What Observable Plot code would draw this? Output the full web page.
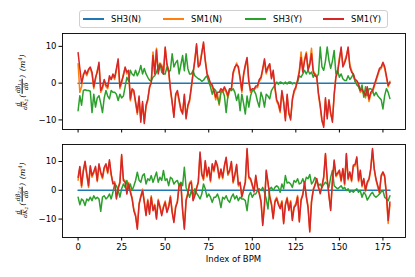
<!DOCTYPE html>
<html><head><meta charset="utf-8">
<script src="https://cdn.jsdelivr.net/npm/d3@7"></script>
<script src="https://cdn.jsdelivr.net/npm/@observablehq/plot@0.6"></script>
<style>
body{margin:0;background:#fff;font-family:"DejaVu Sans",sans-serif;}
#wrap{position:relative;width:415px;height:277px;overflow:hidden;background:#fff;}
.panel{position:absolute;left:0;}
.legend{position:absolute;left:79px;top:10px;width:307px;height:16px;border:1px solid #d0d0d0;border-radius:3px;background:#fff;}
.item{position:absolute;top:0;height:16px;font-size:8.5px;line-height:16px;color:#000;white-space:nowrap;}
.sw{position:absolute;top:7px;width:21px;height:0;border-top:2px solid #000;}
.ylab{position:absolute;transform:translate(-50%,-50%) rotate(-90deg);white-space:nowrap;font-family:"DejaVu Serif",serif;font-size:8px;color:#000;font-style:italic;display:flex;align-items:center;gap:1px;}
.frac{display:inline-flex;flex-direction:column;align-items:center;font-size:6px;line-height:1.05;}
.frac .num{border-bottom:0.6px solid #000;padding:0 0.5px;}
.frac sub{font-size:4.2px;vertical-align:-1px;}
.ylab sup{font-size:5px;vertical-align:3.5px;}
.xlab{position:absolute;left:62px;width:343px;top:254px;text-align:center;font-size:8.5px;color:#000;}
</style></head><body><div id="wrap"></div>
<script>
const seriesNames = ["SH3(N)", "SM1(N)", "SH3(Y)", "SM1(Y)"];
const seriesColors = ["#1f77b4", "#ff7f0e", "#2ca02c", "#d62728"];
const xTicks = [0, 25, 50, 75, 100, 125, 150, 175];
const yTicks = [-10, 0, 10];
const bpmIndex = d3.range(180);

// Top panel: d/dK2 (d beta_{1,x} / d delta)
const top_SH3N = [0,0,0,0,0,0,0,0,0,0,0,0,0,0,0,0,0,0,0,0,0,0,0,0,0,0,0,0,0,0,
0,0,0,0,0,0,0,0,0,0,0,0,0,0,0,0,0,0,0,0,0,0,0,0,0,0,0,0,0,0,
0,0,0,0,0,0,0,0,0,0,0,0,0,0,0,0,0,0,0,0,0,0,0,0,0,0,0,0,0,0,
0,0,0,0,0,0,0,0,0,0,0,0,0,0,0,0,0,0,0,0,0,0,0,0,0,0,0,0,0,0,
0,0,0,0,0,0,0,0,0,0,0,0,0,0,0,0,0,0,0,0,0,0,0,0,0,0,0,0,0,0,
0,0,0,0,0,0,0,0,0,0,0,0,0,0,0,0,0,0,0,0,0,0,0,0,0,0,0,0,0,0];
const top_SM1N = [5.3,-2.5,-1,2.5,3,2,3.5,4,2.5,-1.5,1,3.5,5,-2.5,-1.5,0.5,-1,-1.5,1.5,1,2,1,3.5,6,-1.5,0,2.5,4,2.5,3,
-4.8,-2,-2.5,-5.5,-8.5,-4,-10,-5.5,-10.5,-6.5,-4.8,-1.5,0.5,8.5,3,9.5,3,5.5,5,3,9.5,5.5,3,-2,-5.5,-8.8,-3.5,-2.5,-5,-7.5,
-8,-3.5,-9.2,-6.5,-5,-1.5,3,6.5,10.2,5,5.5,8.5,10.7,6.5,3,1,-0.5,-1,-2.5,-4.5,-3,-6,-2,-2.5,-1.5,-2.5,-4,-2,-2,2.5,
4,5.5,4,1,-2.5,2,4.5,6.5,0.2,-2.5,-2,-2,-1.2,-1.2,0.5,1.2,3.5,6,2.5,4,5,1.5,3,-1.5,-5,-6,-8,-2.5,-5.5,-9.5,
-3.5,-8.5,-9.5,-4.8,-2.5,-1.5,1,3.5,8.5,3.5,6.5,8.5,4,5.5,9.5,3.5,2.5,2,-3.3,-6.5,-10.5,-11.5,-4.5,-9,-5,-8.5,-10,-3.5,2,3.5,
7,9.2,5,6,7.5,9.5,5,3.5,2,0.5,0.2,-0.8,-2.5,-2,-3,-4,-1.5,-5,-3,-2.5,-1,0.5,2,3.5,4,5.3,4,1.5,-1,0.5];
const top_SH3Y = [-7.5,-3.4,-6,-2,-1.8,-2,-2,-2.2,-8,-3,-6.5,-4,-3.4,-5.5,-8,-4,-2,-3.5,-4.3,-2,-2.5,-2.5,-3,-4.7,-3,-4,-3.5,-1,1.6,0.5,
3.5,2.5,2,3.5,2,3,4.8,2.5,4,2.5,1.6,0.8,0.6,1.6,2,3,4.5,5.3,3,2.5,2.5,4.4,3,3.5,8,4.4,5.5,6.2,2.5,5,
7.5,3.4,8,4,2.5,2.5,3.4,2,1.6,1.2,1,0.5,0.8,1.5,2,0.3,-1,-3,-1.5,-2,-3.8,-5.6,-2.5,-2,-3.5,-8,-3.4,-1.5,-2,-1.5,
-2.5,-4.7,-3,-7.5,-3,-5.5,-8.4,-3.5,-6.5,-3.5,-2,-2,-3,-5,-6.5,-2.5,-4,-6.5,-3,-3.5,-4.3,-2,-1.2,-0.5,0.3,-0.3,0.3,0.1,-0.2,0.3,
-0.2,0.3,0.3,-0.2,0.1,-0.2,0.3,2,1.6,2.5,3.5,2.5,3.5,2.5,3,1.6,2.5,1.6,2.5,9.8,4.4,3.5,6,9.8,6.2,4,6,8.9,2.5,3.5,
1.6,2.5,1.2,0.7,0.7,2,1,1.6,2.5,0.5,-0.5,-1,-2,-0.5,-3.8,-1,-3.4,-1.5,-1.5,-2,-3.4,-2.5,-3.4,-4,-4.5,-7,-3.4,-1.5,-2.5,-4.2];
const top_SM1Y = [8.3,4,0,2,3.5,2.5,3.8,4.4,3,-1,1.5,3,5.7,-2,-1,1,-0.5,-1,2,1,2.5,1.5,4,6.6,-1,0.5,2,4.4,3,3.5,
-4.3,-1.5,-2,-5,-8,-3.5,-10.6,-5,-11,-6,-4.3,-1,0,7.5,2.5,9,2.5,5,4.5,2.5,9.8,5,3.5,-1.5,-5,-9.3,-3,-2,-4.5,-7,
-8.4,-3,-9.7,-6,-4.5,-1,2.5,6,10.7,4.4,5,8,11.2,6,2.5,1.5,0,-0.5,-2,-3.8,-2.5,-2.5,-1.5,-2,-1,-2,-3.3,-1.5,-1.5,3,
4.4,5,4.5,1.5,-2,2.5,5,7,0.7,-2,-1.5,-1.6,-0.8,-0.7,1,1.6,4,6.6,3,4.4,5.3,1.2,3.5,-1,-4.5,-5.5,-7.5,-2,-5,-10.2,
-3,-8,-10,-4.3,-2,-1,0.7,3,7,3,6,8,3.5,5,8,3,2,1.6,-2.8,-6,-10,-12,-4,-9.7,-4.5,-8,-10.6,-3,1.6,3,
6.2,9.8,4.4,5.5,7,9.8,4.4,3,2.5,1,0.7,-0.2,-2,-1.6,-2.5,-3.4,-1,-4.3,-2.5,-2,-0.5,1,2.5,4,4.4,5.7,4.5,2,-0.6,0.2];

// Bottom panel: d/dK2 (d beta_{2,y} / d delta)
const bot_SH3N = [0,0,0,0,0,0,0,0,0,0,0,0,0,0,0,0,0,0,0,0,0,0,0,0,0,0,0,0,0,0,
0,0,0,0,0,0,0,0,0,0,0,0,0,0,0,0,0,0,0,0,0,0,0,0,0,0,0,0,0,0,
0,0,0,0,0,0,0,0,0,0,0,0,0,0,0,0,0,0,0,0,0,0,0,0,0,0,0,0,0,0,
0,0,0,0,0,0,0,0,0,0,0,0,0,0,0,0,0,0,0,0,0,0,0,0,0,0,0,0,0,0,
0,0,0,0,0,0,0,0,0,0,0,0,0,0,0,0,0,0,0,0,0,0,0,0,0,0,0,0,0,0,
0,0,0,0,0,0,0,0,0,0,0,0,0,0,0,0,0,0,0,0,0,0,0,0,0,0,0,0,0,0];
const bot_SM1N = [3.5,7.8,1,6.5,9.5,5.2,1,8,4.5,6,7.8,3,8.7,5.8,4,7.5,8.7,5.8,10,5.2,2.7,3,-2.5,1,3,11.8,3.9,3.3,-0.8,2.7,
-0.2,-2.5,-6.6,-8.5,-13,-4.5,-2,0.4,-3.7,-8.3,-3.1,-7.8,-1.9,-6.6,-4.8,-9.5,-3.1,-5.4,-8.3,-5.5,-3.7,-7.2,-5.4,-1.9,-7.2,-10.7,-5.5,-3.7,2.1,2.7,
-6.6,-13,-3.1,-0.8,2.7,3.3,-3.1,-1.4,1,2.5,12.8,5.2,3.5,9.8,4.6,7.5,2.9,8.7,6.4,9.8,8.1,4,6.9,4,8.1,11,5.2,6.4,9.5,2.5,
5,8.5,1.5,2.3,-1.9,0.5,2.5,14,4.2,3.6,1.5,-0.1,4.7,0.5,-0.7,-3.5,-11.7,-4.7,6.5,2.4,-1.8,-4.5,-9.4,-3.6,-2.4,-4.5,-5.9,-3.6,-11.1,-4.7,
-2.4,-6.5,-3.6,-10,-5.5,-4.7,-1.8,-10.5,-3,-1.2,2.4,-1.8,-5.5,-14,-3.6,0.5,1.5,3.6,0.7,-0.7,1,4.2,12.3,3.6,-1.5,-6.5,3,10,4.7,5.5,
6.5,3,7.1,1.8,12.3,3.6,5.9,3,8.2,8.5,11.1,3,6.5,1.2,3.6,-0.5,2.4,3.5,7.1,14,7.1,3.5,1.2,-1.1,4.7,5.9,4.5,-1.7,-11.5,-5];
const bot_SH3Y = [-2.4,-5,-3,-3.6,-5.3,-3,-3.6,-2.4,-3.6,-1.9,-3,-2.4,-3,-7.3,-2.4,-1.9,-3,-2.4,-1.3,-3,-0.7,2.2,1.6,0,-2.4,0.5,2.2,1,3.4,0.5,
2.2,-0.1,1.5,3.4,6.3,3.5,2.8,5.1,5.7,2.2,4,3.4,5.1,2.8,4.5,6.3,2.8,4.5,3.4,6.9,3.4,4,1.6,4.5,4,2.2,3,3.4,1.6,2.8,
1.6,8,1,-0.7,-2.4,-0.1,-1.9,0.5,-1,-1.9,-3,-1.3,2.2,0.5,-2.4,-1.3,-2.4,-4.2,-2.4,-2.4,-1.3,-3,-6,-2.4,-3,-1.9,-3.5,-4.2,-2.4,-1.3,
-3,-1.9,-3.6,-2.4,-3,-3,-3.6,-7.1,-1.9,-0.7,-2.4,-1.3,-1.3,-0.1,0.5,-0.1,1,-0.7,-3,-6.5,0.5,1,-0.1,1,1.6,1,-0.7,2.2,0.5,5.1,
2.5,2.8,2.2,1,3.4,2.8,4,2.2,2.5,4,2.2,4.5,4,5.5,2.2,3,4.5,3.4,1.6,2.2,1,2,2.8,2.2,1,4.5,6.9,1.6,1,0.5,
1,1.6,0.5,1,-0.1,0.5,-0.7,-0.1,-0.7,0,0.5,-0.7,-0.1,-2.4,-0.7,-1.5,-3.4,-2.4,-1.3,-0.7,-1.9,-2.4,-1.9,-1.3,-0.5,-0.1,-2.4,-3,-3.6,-1.9];
const bot_SM1Y = [4.5,8.3,1.6,6.9,10.1,5.7,1.6,8.5,5.1,6.5,8.3,3.4,9.2,6.3,4.5,8,9.2,6.3,10.6,5.7,2.2,2.5,-3,0.5,2.5,12.4,3.4,2.8,-1.3,2.2,
-0.7,-3,-7.1,-9,-13.5,-5,-2.4,-0.1,-4.2,-8.8,-3.6,-8.3,-2.4,-7.1,-5.3,-10,-3.6,-5.9,-8.8,-6,-4.2,-7.7,-5.9,-2.4,-7.7,-11.2,-6,-4.2,1.6,2.2,
-7.1,-13.5,-3.6,-1.3,2.2,2.8,-3.6,-1.9,0.5,3,13.3,5.7,4,10.3,5.1,8,3.4,9.2,6.9,10.3,8.6,4.5,7.4,4.5,8.6,11.5,5.7,6.9,10,3,
5.5,9,2,2.8,-2.4,0,3,14.5,4.7,4.1,2,-0.6,5.2,1,-1.2,-4,-12.2,-5.2,7,2.9,-2.3,-5,-9.9,-4.1,-2.9,-5,-6.4,-4.1,-11.6,-5.2,
-2.9,-7,-4.1,-10.5,-6,-5.2,-2.3,-11,-3.5,-1.7,2.9,-2.3,-6,-14.5,-4.1,0,2,4.1,1.2,-1.2,1.5,4.7,12.8,4.1,-2,-7,3.5,10.5,5.2,6,
7,3.5,7.6,2.3,12.8,4.1,6.4,3.5,8.7,9,11.6,3.5,7,1.7,4.1,0,2.9,4,7.6,14.5,7.6,4,1.7,-0.6,5.2,6.4,5,-1.2,-10.5,-4.1];

const wrap = document.getElementById("wrap");

function panel(seriesList, yDomain, height, marginBottom, showXLabels) {
  const marks = [];
  seriesList.forEach((vals, k) => {
    marks.push(Plot.line(bpmIndex, {x: d => d, y: d => vals[d], stroke: seriesColors[k], strokeWidth: 1.5}));
  });
  marks.push(Plot.frame({stroke: "#000", strokeWidth: 0.9}));
  marks.push(Plot.axisY({ticks: yTicks, tickSize: 3.5, tickPadding: 2.5, label: null}));
  marks.push(Plot.axisX({ticks: xTicks, tickSize: 3.5, tickPadding: 3, label: null,
    tickFormat: showXLabels ? (d => String(d)) : (() => "")}));
  return Plot.plot({
    width: 415, height,
    marginLeft: 62, marginRight: 10, marginTop: 5, marginBottom,
    x: {domain: [-8.95, 187.95]},
    y: {domain: yDomain},
    style: {fontSize: "8.5px", fontFamily: "DejaVu Sans, sans-serif", color: "#000", background: "transparent", overflow: "visible"},
    marks
  });
}

const topSvg = panel([top_SH3N, top_SM1N, top_SH3Y, top_SM1Y], [-12.6, 13.5], 108, 7, false);
topSvg.classList.add("panel"); topSvg.style.top = "28px";
wrap.appendChild(topSvg);

const botSvg = panel([bot_SH3N, bot_SM1N, bot_SH3Y, bot_SM1Y], [-16.4, 15.9], 138, 40, true);
botSvg.classList.add("panel"); botSvg.style.top = "139px";
wrap.appendChild(botSvg);

// legend
const legend = document.createElement("div");
legend.className = "legend";
const swX = [3, 83, 165, 243];
seriesNames.forEach((name, k) => {
  const sw = document.createElement("div");
  sw.className = "sw"; sw.style.left = swX[k] + "px"; sw.style.borderTopColor = seriesColors[k];
  legend.appendChild(sw);
  const t = document.createElement("div");
  t.className = "item"; t.style.left = (swX[k] + 28) + "px"; t.textContent = name;
  legend.appendChild(t);
});
wrap.appendChild(legend);

// y labels
function ylab(sub, cy) {
  const d = document.createElement("div");
  d.className = "ylab"; d.style.left = "22px"; d.style.top = cy + "px";
  d.innerHTML = '<span class="frac"><span class="num">d</span><span>dK<sub>2</sub></span></span>' +
    '<span>(</span><span class="frac"><span class="num">dβ<sub>' + sub + '</sub></span><span>dδ</span></span><span>)</span>' +
    '<span>&nbsp;(m<sup>4</sup>)</span>';
  wrap.appendChild(d);
}
ylab("1,x", 82);
ylab("2,y", 190);

const xl = document.createElement("div");
xl.className = "xlab"; xl.textContent = "Index of BPM";
wrap.appendChild(xl);
</script>
</body></html>
